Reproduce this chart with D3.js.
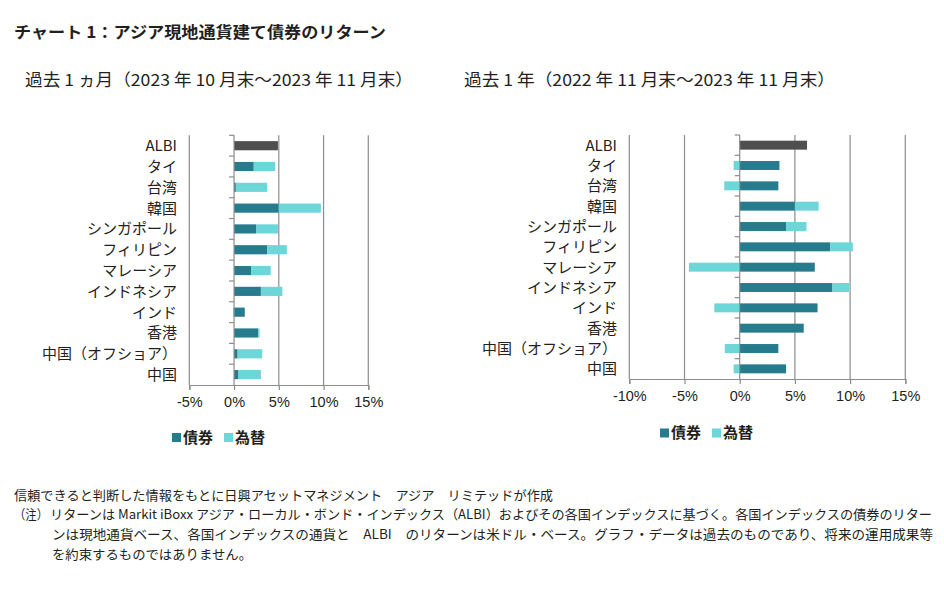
<!DOCTYPE html>
<html><head><meta charset="utf-8">
<script src="https://cdn.jsdelivr.net/npm/d3@7/dist/d3.min.js"></script>
<style>
html,body{margin:0;padding:0;background:#fff;}
text{font-family:"Noto Sans CJK JP","Noto Sans",sans-serif;fill:#231f20;}
.tick-label{font-family:"Liberation Sans",Arial,sans-serif;}
</style></head>
<body>
<svg id="chart" width="944" height="594"></svg>
<script>
const categories = ["ALBI","タイ","台湾","韓国","シンガポール","フィリピン","マレーシア","インドネシア","インド","香港","中国（オフショア）","中国"];
const seriesNames = ["債券","為替"];
// 過去1ヵ月
const albiMonth = [4.9,0,0,0,0,0,0,0,0,0,0,0];
const bondMonth = [0,2.2,0.2,5.0,2.5,3.7,1.9,3.0,1.2,2.7,0.4,0.5];
const fxMonth   = [0,2.4,3.5,4.7,2.4,2.2,2.2,2.4,-0.1,0.15,2.75,2.5];
// 過去1年
const albiYear = [6.1,0,0,0,0,0,0,0,0,0,0,0];
const bondYear = [0,3.6,3.5,5.0,4.2,8.2,6.8,8.4,7.05,5.8,3.5,4.2];
const fxYear   = [0,-0.55,-1.4,2.15,1.85,2.05,-4.6,1.5,-2.3,0,-1.35,-0.55];
const ticksMonth = [-5,0,5,10,15];
const ticksYear = [-10,-5,0,5,10,15];

const title = "チャート 1：アジア現地通貨建て債券のリターン";
const subMonth = "過去 1 ヵ月（2023 年 10 月末～2023 年 11 月末）";
const subYear = "過去 1 年（2022 年 11 月末～2023 年 11 月末）";
const notes = [
  "信頼できると判断した情報をもとに日興アセットマネジメント　アジア　リミテッドが作成",
  "リターンは Markit iBoxx アジア・ローカル・ボンド・インデックス（ALBI）およびその各国インデックスに基づく。各国インデックスの債券のリター",
  "ンは現地通貨ベース、各国インデックスの通貨と　ALBI　のリターンは米ドル・ベース。グラフ・データは過去のものであり、将来の運用成果等",
  "を約束するものではありません。"
];

const COL = {albi:"#4f4f4f", bond:"#267b8c", fx:"#6cd6d8", grid:"#8c8c8c"};
const svg = d3.select("#chart");

svg.append("text").attr("x",14).attr("y",38).attr("font-size",16).attr("font-weight","bold")
  .attr("textLength",372).attr("lengthAdjust","spacingAndGlyphs").text(title);

function drawPanel(cfg){
  const g = svg.append("g");
  const x = d3.scaleLinear().domain(cfg.domain).range(cfg.xr);
  const y = d3.scaleBand().domain(categories).range(cfg.yr).paddingInner(0.56).paddingOuter(0.28);
  const band = d3.scaleBand().domain(categories).range(cfg.yr);
  const rows = categories.map((c,i)=>({cat:c, albi:cfg.albi[i], bond:cfg.bond[i], fx:cfg.fx[i]}));
  const stack = d3.stack().keys(["albi","bond","fx"]).offset(d3.stackOffsetDiverging)(rows);

  // gridlines
  g.selectAll(".grid").data(cfg.ticks.filter(t=>t!==0)).join("line")
    .attr("x1",d=>x(d)).attr("x2",d=>x(d)).attr("y1",cfg.yr[0]).attr("y2",cfg.yr[1])
    .attr("stroke",COL.grid).attr("stroke-width",1.2);

  // bars
  stack.forEach(s=>{
    g.append("g").selectAll("rect").data(s).join("rect")
      .attr("x",d=>x(Math.min(d[0],d[1])))
      .attr("width",d=>Math.abs(x(d[1])-x(d[0])))
      .attr("y",d=>y(d.data.cat)).attr("height",y.bandwidth())
      .attr("fill",COL[s.key]);
  });

  // category axis at zero
  const x0 = x(0);
  g.append("line").attr("x1",x0).attr("x2",x0).attr("y1",cfg.yr[0]).attr("y2",cfg.yr[1])
    .attr("stroke",COL.grid).attr("stroke-width",1.2);
  const bounds = categories.map(c=>band(c)).concat([cfg.yr[1]]);
  g.selectAll(".ytick").data(bounds.slice(0,-1)).join("line")
    .attr("x1",x0-5).attr("x2",x0).attr("y1",d=>d).attr("y2",d=>d)
    .attr("stroke",COL.grid).attr("stroke-width",1.2);
  g.selectAll(".cat").data(categories).join("text")
    .attr("x",cfg.labelX).attr("y",d=>band(d)+band.bandwidth()/2)
    .attr("dy","0.36em").attr("text-anchor","end").attr("font-size",15)
    .attr("fill","#333")
    .text(d=>d);

  // bottom axis
  const xa = g.append("g").attr("transform",`translate(0,${cfg.yr[1]})`)
    .call(d3.axisBottom(x).tickValues(cfg.ticks).tickFormat(d=>d+"%").tickSize(5).tickPadding(7));
  xa.select(".domain").attr("stroke",COL.grid).attr("stroke-width",1.2);
  xa.selectAll(".tick line").attr("stroke",COL.grid).attr("stroke-width",1.2);
  xa.selectAll(".tick text").attr("class","tick-label").attr("font-size",14.5).attr("fill","#333")
    .style("font-family","'Liberation Sans',Arial,sans-serif");

  // legend
  const lg = g.append("g");
  const items = [{n:seriesNames[0],c:COL.bond,x:cfg.legX},{n:seriesNames[1],c:COL.fx,x:cfg.legX+52}];
  items.forEach(it=>{
    lg.append("rect").attr("x",it.x).attr("y",cfg.legY-4.5).attr("width",9).attr("height",9).attr("fill",it.c);
    lg.append("text").attr("x",it.x+11).attr("y",cfg.legY).attr("dy","0.36em")
      .attr("font-size",15).attr("font-weight","bold").attr("fill","#333").text(it.n);
  });

  svg.append("text").attr("x",cfg.subX).attr("y",86).attr("font-size",16.5)
    .attr("textLength",cfg.subW).attr("lengthAdjust","spacingAndGlyphs").text(cfg.sub);
}

drawPanel({domain:[-5,15], xr:[189.3,368.3], yr:[135.3,385], ticks:ticksMonth,
  albi:albiMonth, bond:bondMonth, fx:fxMonth, labelX:177, legX:172, legY:437.5,
  sub:subMonth, subX:25, subW:388});
drawPanel({domain:[-10,15], xr:[629.3,905.3], yr:[135,379], ticks:ticksYear,
  albi:albiYear, bond:bondYear, fx:fxYear, labelX:617, legX:660, legY:433,
  sub:subYear, subX:464, subW:371});

// notes
const fn = svg.append("g").attr("font-size",13);
fn.append("text").attr("x",14).attr("y",500).attr("font-size",13)
  .attr("textLength",539).attr("lengthAdjust","spacingAndGlyphs").text(notes[0]);
fn.append("text").attr("x",14).attr("y",519).attr("font-size",13)
  .attr("textLength",34).attr("lengthAdjust","spacingAndGlyphs").text("（注）");
fn.append("text").attr("x",50).attr("y",519).attr("font-size",13)
  .attr("textLength",882).attr("lengthAdjust","spacingAndGlyphs").text(notes[1]);
fn.append("text").attr("x",52).attr("y",539).attr("font-size",13)
  .attr("textLength",881).attr("lengthAdjust","spacingAndGlyphs").text(notes[2]);
fn.append("text").attr("x",52).attr("y",559).attr("font-size",13)
  .attr("textLength",200).attr("lengthAdjust","spacingAndGlyphs").text(notes[3]);
</script>
</body></html>
